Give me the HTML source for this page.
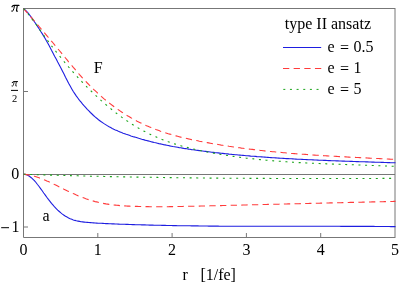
<!DOCTYPE html>
<html><head><meta charset="utf-8"><title>plot</title>
<style>
html,body{margin:0;padding:0;background:#fff;}
body{width:399px;height:283px;overflow:hidden;font-family:"Liberation Serif",serif;}
svg{display:block;will-change:transform;transform:translateZ(0)}
text{font-family:"Liberation Serif",serif;font-size:16px;fill:#000}
</style></head><body>
<svg width="399" height="283" viewBox="0 0 399 283">
<rect width="399" height="283" fill="#fff"/>
<g stroke="#777" stroke-width="1" fill="none">
<line x1="23.5" y1="174.5" x2="395" y2="174.5"/>
<path d="M395,8.5 H23.5 V237.5 H395"/>
<line x1="395" y1="8" x2="395" y2="238"/>
</g>
<g fill="none" stroke-width="1.1">
<path d="M23.5,8.5 L25.1,9.8 L26.6,11.4 L28.2,13.2 L29.7,15.1 L31.3,17.2 L32.8,19.4 L34.4,21.7 L36.0,24.0 L37.5,26.4 L39.1,28.8 L40.6,31.2 L42.2,33.6 L43.7,36.1 L45.3,38.7 L46.8,41.5 L48.4,44.3 L50.0,47.2 L51.5,50.2 L53.1,53.2 L54.6,56.2 L56.2,59.1 L57.7,62.1 L59.3,65.0 L60.9,68.0 L62.4,71.0 L64.0,74.1 L65.5,77.2 L67.1,80.2 L68.6,83.2 L70.2,86.1 L71.8,88.9 L73.3,91.5 L74.9,93.9 L76.4,96.1 L78.0,98.3 L79.5,100.3 L81.1,102.2 L82.6,104.1 L84.2,105.9 L85.8,107.6 L87.3,109.3 L88.9,110.9 L90.4,112.5 L92.0,114.0 L93.5,115.5 L95.1,116.9 L96.7,118.2 L98.2,119.5 L99.8,120.7 L101.3,121.8 L102.9,122.9 L104.4,123.9 L106.0,124.9 L107.6,125.9 L109.1,126.8 L110.7,127.6 L112.2,128.4 L113.8,129.2 L115.3,129.9 L116.9,130.6 L118.4,131.3 L120.0,131.9 L121.6,132.6 L123.1,133.2 L124.7,133.7 L126.2,134.3 L127.8,134.8 L129.3,135.3 L130.9,135.9 L132.5,136.4 L134.0,136.9 L135.6,137.3 L137.1,137.8 L138.7,138.3 L140.2,138.7 L141.8,139.2 L143.3,139.6 L144.9,140.1 L146.5,140.5 L148.0,140.9 L149.6,141.3 L151.1,141.7 L152.7,142.1 L154.2,142.5 L155.8,142.8 L157.4,143.2 L158.9,143.6 L160.5,143.9 L162.0,144.2 L163.6,144.6 L165.1,144.9 L166.7,145.2 L168.3,145.5 L169.8,145.9 L171.4,146.2 L172.9,146.5 L174.5,146.7 L176.0,147.0 L177.6,147.3 L179.1,147.6 L180.7,147.8 L182.3,148.1 L183.8,148.4 L185.4,148.6 L186.9,148.8 L188.5,149.1 L190.0,149.3 L191.6,149.6 L193.2,149.8 L194.7,150.0 L196.3,150.2 L197.8,150.4 L199.4,150.6 L200.9,150.8 L202.5,151.0 L204.1,151.2 L205.6,151.4 L207.2,151.6 L208.7,151.8 L210.3,152.0 L211.8,152.2 L213.4,152.4 L214.9,152.6 L216.5,152.7 L218.1,152.9 L219.6,153.1 L221.2,153.3 L222.7,153.4 L224.3,153.6 L225.8,153.8 L227.4,153.9 L229.0,154.1 L230.5,154.2 L232.1,154.4 L233.6,154.5 L235.2,154.7 L236.7,154.8 L238.3,155.0 L239.9,155.1 L241.4,155.3 L243.0,155.4 L244.5,155.5 L246.1,155.7 L247.6,155.8 L249.2,155.9 L250.7,156.1 L252.3,156.2 L253.9,156.3 L255.4,156.4 L257.0,156.6 L258.5,156.7 L260.1,156.8 L261.6,156.9 L263.2,157.0 L264.8,157.1 L266.3,157.3 L267.9,157.4 L269.4,157.5 L271.0,157.6 L272.5,157.7 L274.1,157.8 L275.7,157.9 L277.2,158.0 L278.8,158.1 L280.3,158.2 L281.9,158.3 L283.4,158.4 L285.0,158.5 L286.5,158.6 L288.1,158.6 L289.7,158.7 L291.2,158.8 L292.8,158.9 L294.3,159.0 L295.9,159.1 L297.4,159.2 L299.0,159.2 L300.6,159.3 L302.1,159.4 L303.7,159.5 L305.2,159.5 L306.8,159.6 L308.3,159.7 L309.9,159.8 L311.4,159.8 L313.0,159.9 L314.6,160.0 L316.1,160.0 L317.7,160.1 L319.2,160.2 L320.8,160.2 L322.3,160.3 L323.9,160.4 L325.5,160.4 L327.0,160.5 L328.6,160.6 L330.1,160.6 L331.7,160.7 L333.2,160.7 L334.8,160.8 L336.4,160.9 L337.9,160.9 L339.5,161.0 L341.0,161.0 L342.6,161.1 L344.1,161.1 L345.7,161.2 L347.2,161.3 L348.8,161.3 L350.4,161.4 L351.9,161.4 L353.5,161.5 L355.0,161.5 L356.6,161.6 L358.1,161.6 L359.7,161.7 L361.3,161.7 L362.8,161.8 L364.4,161.8 L365.9,161.9 L367.5,161.9 L369.0,162.0 L370.6,162.0 L372.2,162.1 L373.7,162.1 L375.3,162.2 L376.8,162.2 L378.4,162.3 L379.9,162.3 L381.5,162.4 L383.0,162.4 L384.6,162.5 L386.2,162.5 L387.7,162.6 L389.3,162.6 L390.8,162.7 L392.4,162.7 L393.9,162.8 L395.5,162.8" stroke="#1e1ee0"/>
<path d="M23.5,8.5 L25.1,10.3 L26.6,12.1 L28.2,13.8 L29.7,15.6 L31.3,17.4 L32.8,19.2 L34.4,21.0 L36.0,22.9 L37.5,24.7 L39.1,26.5 L40.6,28.3 L42.2,30.1 L43.7,32.0 L45.3,33.8 L46.8,35.6 L48.4,37.5 L50.0,39.3 L51.5,41.2 L53.1,43.0 L54.6,44.9 L56.2,46.7 L57.7,48.6 L59.3,50.5 L60.9,52.4 L62.4,54.2 L64.0,56.1 L65.5,58.0 L67.1,59.9 L68.6,61.8 L70.2,63.7 L71.8,65.5 L73.3,67.4 L74.9,69.2 L76.4,71.1 L78.0,72.8 L79.5,74.6 L81.1,76.4 L82.6,78.1 L84.2,79.8 L85.8,81.4 L87.3,83.0 L88.9,84.6 L90.4,86.2 L92.0,87.7 L93.5,89.3 L95.1,90.7 L96.7,92.2 L98.2,93.6 L99.8,95.0 L101.3,96.4 L102.9,97.8 L104.4,99.1 L106.0,100.4 L107.6,101.6 L109.1,102.9 L110.7,104.1 L112.2,105.3 L113.8,106.5 L115.3,107.6 L116.9,108.7 L118.4,109.8 L120.0,110.9 L121.6,112.0 L123.1,113.0 L124.7,114.0 L126.2,115.0 L127.8,115.9 L129.3,116.8 L130.9,117.8 L132.5,118.6 L134.0,119.5 L135.6,120.3 L137.1,121.2 L138.7,122.0 L140.2,122.7 L141.8,123.5 L143.3,124.2 L144.9,125.0 L146.5,125.7 L148.0,126.3 L149.6,127.0 L151.1,127.6 L152.7,128.3 L154.2,128.9 L155.8,129.5 L157.4,130.0 L158.9,130.6 L160.5,131.2 L162.0,131.7 L163.6,132.2 L165.1,132.7 L166.7,133.2 L168.3,133.7 L169.8,134.1 L171.4,134.6 L172.9,135.0 L174.5,135.5 L176.0,135.9 L177.6,136.3 L179.1,136.7 L180.7,137.1 L182.3,137.4 L183.8,137.8 L185.4,138.2 L186.9,138.5 L188.5,138.9 L190.0,139.2 L191.6,139.6 L193.2,139.9 L194.7,140.2 L196.3,140.5 L197.8,140.8 L199.4,141.2 L200.9,141.5 L202.5,141.8 L204.1,142.1 L205.6,142.3 L207.2,142.6 L208.7,142.9 L210.3,143.2 L211.8,143.5 L213.4,143.8 L214.9,144.0 L216.5,144.3 L218.1,144.5 L219.6,144.8 L221.2,145.1 L222.7,145.3 L224.3,145.6 L225.8,145.8 L227.4,146.0 L229.0,146.3 L230.5,146.5 L232.1,146.7 L233.6,147.0 L235.2,147.2 L236.7,147.4 L238.3,147.6 L239.9,147.8 L241.4,148.1 L243.0,148.3 L244.5,148.5 L246.1,148.7 L247.6,148.9 L249.2,149.1 L250.7,149.3 L252.3,149.4 L253.9,149.6 L255.4,149.8 L257.0,150.0 L258.5,150.2 L260.1,150.4 L261.6,150.5 L263.2,150.7 L264.8,150.9 L266.3,151.0 L267.9,151.2 L269.4,151.4 L271.0,151.5 L272.5,151.7 L274.1,151.8 L275.7,152.0 L277.2,152.1 L278.8,152.3 L280.3,152.4 L281.9,152.5 L283.4,152.7 L285.0,152.8 L286.5,153.0 L288.1,153.1 L289.7,153.2 L291.2,153.4 L292.8,153.5 L294.3,153.6 L295.9,153.7 L297.4,153.9 L299.0,154.0 L300.6,154.1 L302.1,154.2 L303.7,154.3 L305.2,154.4 L306.8,154.5 L308.3,154.7 L309.9,154.8 L311.4,154.9 L313.0,155.0 L314.6,155.1 L316.1,155.2 L317.7,155.3 L319.2,155.4 L320.8,155.5 L322.3,155.6 L323.9,155.7 L325.5,155.8 L327.0,155.9 L328.6,156.0 L330.1,156.0 L331.7,156.1 L333.2,156.2 L334.8,156.3 L336.4,156.4 L337.9,156.5 L339.5,156.6 L341.0,156.7 L342.6,156.7 L344.1,156.8 L345.7,156.9 L347.2,157.0 L348.8,157.1 L350.4,157.2 L351.9,157.2 L353.5,157.3 L355.0,157.4 L356.6,157.5 L358.1,157.5 L359.7,157.6 L361.3,157.7 L362.8,157.8 L364.4,157.9 L365.9,157.9 L367.5,158.0 L369.0,158.1 L370.6,158.2 L372.2,158.2 L373.7,158.3 L375.3,158.4 L376.8,158.5 L378.4,158.5 L379.9,158.6 L381.5,158.7 L383.0,158.8 L384.6,158.9 L386.2,158.9 L387.7,159.0 L389.3,159.1 L390.8,159.2 L392.4,159.2 L393.9,159.3 L395.5,159.4" stroke="#ff3b3b" stroke-dasharray="6.3 4.35"/>
<path d="M23.5,8.5 L25.1,10.3 L26.6,12.1 L28.2,14.0 L29.7,16.0 L31.3,18.0 L32.8,20.1 L34.4,22.2 L36.0,24.4 L37.5,26.5 L39.1,28.7 L40.6,30.9 L42.2,33.1 L43.7,35.2 L45.3,37.4 L46.8,39.5 L48.4,41.6 L50.0,43.7 L51.5,45.8 L53.1,47.8 L54.6,49.8 L56.2,51.8 L57.7,53.8 L59.3,55.7 L60.9,57.7 L62.4,59.6 L64.0,61.5 L65.5,63.3 L67.1,65.2 L68.6,67.0 L70.2,68.8 L71.8,70.6 L73.3,72.3 L74.9,74.1 L76.4,75.8 L78.0,77.5 L79.5,79.2 L81.1,80.8 L82.6,82.5 L84.2,84.1 L85.8,85.7 L87.3,87.3 L88.9,88.8 L90.4,90.4 L92.0,91.9 L93.5,93.4 L95.1,94.9 L96.7,96.3 L98.2,97.8 L99.8,99.2 L101.3,100.6 L102.9,102.0 L104.4,103.4 L106.0,104.7 L107.6,106.1 L109.1,107.4 L110.7,108.6 L112.2,109.9 L113.8,111.2 L115.3,112.4 L116.9,113.6 L118.4,114.8 L120.0,115.9 L121.6,117.1 L123.1,118.2 L124.7,119.3 L126.2,120.4 L127.8,121.4 L129.3,122.5 L130.9,123.5 L132.5,124.5 L134.0,125.4 L135.6,126.4 L137.1,127.3 L138.7,128.2 L140.2,129.1 L141.8,130.0 L143.3,130.8 L144.9,131.6 L146.5,132.4 L148.0,133.2 L149.6,134.0 L151.1,134.7 L152.7,135.5 L154.2,136.2 L155.8,136.8 L157.4,137.5 L158.9,138.2 L160.5,138.8 L162.0,139.4 L163.6,140.0 L165.1,140.6 L166.7,141.2 L168.3,141.8 L169.8,142.3 L171.4,142.8 L172.9,143.4 L174.5,143.9 L176.0,144.3 L177.6,144.8 L179.1,145.3 L180.7,145.7 L182.3,146.2 L183.8,146.6 L185.4,147.0 L186.9,147.4 L188.5,147.8 L190.0,148.2 L191.6,148.6 L193.2,149.0 L194.7,149.3 L196.3,149.7 L197.8,150.0 L199.4,150.4 L200.9,150.7 L202.5,151.0 L204.1,151.4 L205.6,151.7 L207.2,152.0 L208.7,152.3 L210.3,152.6 L211.8,152.9 L213.4,153.1 L214.9,153.4 L216.5,153.7 L218.1,154.0 L219.6,154.2 L221.2,154.5 L222.7,154.8 L224.3,155.0 L225.8,155.3 L227.4,155.5 L229.0,155.7 L230.5,156.0 L232.1,156.2 L233.6,156.4 L235.2,156.6 L236.7,156.8 L238.3,157.1 L239.9,157.3 L241.4,157.5 L243.0,157.7 L244.5,157.9 L246.1,158.1 L247.6,158.2 L249.2,158.4 L250.7,158.6 L252.3,158.8 L253.9,158.9 L255.4,159.1 L257.0,159.3 L258.5,159.4 L260.1,159.6 L261.6,159.7 L263.2,159.9 L264.8,160.0 L266.3,160.2 L267.9,160.3 L269.4,160.5 L271.0,160.6 L272.5,160.7 L274.1,160.9 L275.7,161.0 L277.2,161.1 L278.8,161.2 L280.3,161.3 L281.9,161.5 L283.4,161.6 L285.0,161.7 L286.5,161.8 L288.1,161.9 L289.7,162.0 L291.2,162.1 L292.8,162.2 L294.3,162.3 L295.9,162.4 L297.4,162.5 L299.0,162.6 L300.6,162.6 L302.1,162.7 L303.7,162.8 L305.2,162.9 L306.8,163.0 L308.3,163.0 L309.9,163.1 L311.4,163.2 L313.0,163.3 L314.6,163.3 L316.1,163.4 L317.7,163.5 L319.2,163.5 L320.8,163.6 L322.3,163.7 L323.9,163.7 L325.5,163.8 L327.0,163.9 L328.6,163.9 L330.1,164.0 L331.7,164.0 L333.2,164.1 L334.8,164.2 L336.4,164.2 L337.9,164.3 L339.5,164.3 L341.0,164.4 L342.6,164.4 L344.1,164.5 L345.7,164.5 L347.2,164.6 L348.8,164.6 L350.4,164.7 L351.9,164.8 L353.5,164.8 L355.0,164.9 L356.6,164.9 L358.1,165.0 L359.7,165.0 L361.3,165.1 L362.8,165.1 L364.4,165.2 L365.9,165.2 L367.5,165.3 L369.0,165.3 L370.6,165.4 L372.2,165.5 L373.7,165.5 L375.3,165.6 L376.8,165.6 L378.4,165.7 L379.9,165.7 L381.5,165.8 L383.0,165.9 L384.6,165.9 L386.2,166.0 L387.7,166.1 L389.3,166.1 L390.8,166.2 L392.4,166.3 L393.9,166.3 L395.5,166.4" stroke="#1aa51a" stroke-dasharray="2 4.65"/>
<path d="M23.5,174.3 L25.1,174.4 L26.6,174.8 L28.2,175.5 L29.7,176.5 L31.3,177.7 L32.8,179.1 L34.4,180.7 L36.0,182.5 L37.5,184.5 L39.1,186.5 L40.6,188.6 L42.2,190.8 L43.7,193.0 L45.3,195.1 L46.8,197.3 L48.4,199.4 L50.0,201.4 L51.5,203.4 L53.1,205.2 L54.6,207.0 L56.2,208.6 L57.7,210.1 L59.3,211.5 L60.9,212.9 L62.4,214.1 L64.0,215.2 L65.5,216.2 L67.1,217.1 L68.6,217.9 L70.2,218.7 L71.8,219.3 L73.3,219.9 L74.9,220.4 L76.4,220.8 L78.0,221.1 L79.5,221.4 L81.1,221.7 L82.6,221.9 L84.2,222.1 L85.8,222.3 L87.3,222.4 L88.9,222.5 L90.4,222.6 L92.0,222.8 L93.5,222.9 L95.1,223.0 L96.7,223.1 L98.2,223.2 L99.8,223.2 L101.3,223.3 L102.9,223.4 L104.4,223.5 L106.0,223.6 L107.6,223.6 L109.1,223.7 L110.7,223.8 L112.2,223.9 L113.8,223.9 L115.3,224.0 L116.9,224.0 L118.4,224.1 L120.0,224.2 L121.6,224.2 L123.1,224.3 L124.7,224.3 L126.2,224.4 L127.8,224.4 L129.3,224.5 L130.9,224.5 L132.5,224.6 L134.0,224.6 L135.6,224.7 L137.1,224.7 L138.7,224.8 L140.2,224.8 L141.8,224.9 L143.3,224.9 L144.9,224.9 L146.5,225.0 L148.0,225.0 L149.6,225.1 L151.1,225.1 L152.7,225.1 L154.2,225.2 L155.8,225.2 L157.4,225.3 L158.9,225.3 L160.5,225.3 L162.0,225.4 L163.6,225.4 L165.1,225.4 L166.7,225.5 L168.3,225.5 L169.8,225.5 L171.4,225.5 L172.9,225.6 L174.5,225.6 L176.0,225.6 L177.6,225.7 L179.1,225.7 L180.7,225.7 L182.3,225.7 L183.8,225.8 L185.4,225.8 L186.9,225.8 L188.5,225.8 L190.0,225.8 L191.6,225.9 L193.2,225.9 L194.7,225.9 L196.3,225.9 L197.8,225.9 L199.4,226.0 L200.9,226.0 L202.5,226.0 L204.1,226.0 L205.6,226.0 L207.2,226.0 L208.7,226.1 L210.3,226.1 L211.8,226.1 L213.4,226.1 L214.9,226.1 L216.5,226.1 L218.1,226.1 L219.6,226.2 L221.2,226.2 L222.7,226.2 L224.3,226.2 L225.8,226.2 L227.4,226.2 L229.0,226.2 L230.5,226.2 L232.1,226.2 L233.6,226.2 L235.2,226.2 L236.7,226.3 L238.3,226.3 L239.9,226.3 L241.4,226.3 L243.0,226.3 L244.5,226.3 L246.1,226.3 L247.6,226.3 L249.2,226.3 L250.7,226.3 L252.3,226.3 L253.9,226.3 L255.4,226.3 L257.0,226.3 L258.5,226.3 L260.1,226.3 L261.6,226.3 L263.2,226.3 L264.8,226.3 L266.3,226.3 L267.9,226.3 L269.4,226.3 L271.0,226.3 L272.5,226.3 L274.1,226.3 L275.7,226.3 L277.2,226.3 L278.8,226.3 L280.3,226.3 L281.9,226.3 L283.4,226.3 L285.0,226.3 L286.5,226.3 L288.1,226.3 L289.7,226.3 L291.2,226.3 L292.8,226.3 L294.3,226.3 L295.9,226.3 L297.4,226.3 L299.0,226.3 L300.6,226.3 L302.1,226.3 L303.7,226.3 L305.2,226.3 L306.8,226.3 L308.3,226.3 L309.9,226.3 L311.4,226.3 L313.0,226.3 L314.6,226.3 L316.1,226.3 L317.7,226.3 L319.2,226.3 L320.8,226.3 L322.3,226.3 L323.9,226.3 L325.5,226.3 L327.0,226.3 L328.6,226.3 L330.1,226.3 L331.7,226.3 L333.2,226.3 L334.8,226.3 L336.4,226.3 L337.9,226.3 L339.5,226.3 L341.0,226.4 L342.6,226.4 L344.1,226.4 L345.7,226.4 L347.2,226.4 L348.8,226.4 L350.4,226.4 L351.9,226.4 L353.5,226.4 L355.0,226.4 L356.6,226.4 L358.1,226.4 L359.7,226.4 L361.3,226.4 L362.8,226.4 L364.4,226.4 L365.9,226.4 L367.5,226.4 L369.0,226.4 L370.6,226.4 L372.2,226.4 L373.7,226.4 L375.3,226.5 L376.8,226.5 L378.4,226.5 L379.9,226.5 L381.5,226.5 L383.0,226.5 L384.6,226.5 L386.2,226.5 L387.7,226.5 L389.3,226.5 L390.8,226.6 L392.4,226.6 L393.9,226.6 L395.5,226.6" stroke="#1e1ee0"/>
<path d="M23.5,174.3 L25.1,174.4 L26.6,174.6 L28.2,174.9 L29.7,175.1 L31.3,175.5 L32.8,175.9 L34.4,176.3 L36.0,176.8 L37.5,177.3 L39.1,177.8 L40.6,178.4 L42.2,179.0 L43.7,179.6 L45.3,180.2 L46.8,180.9 L48.4,181.6 L50.0,182.3 L51.5,183.1 L53.1,183.8 L54.6,184.6 L56.2,185.3 L57.7,186.1 L59.3,186.9 L60.9,187.6 L62.4,188.4 L64.0,189.2 L65.5,189.9 L67.1,190.7 L68.6,191.4 L70.2,192.2 L71.8,192.9 L73.3,193.6 L74.9,194.3 L76.4,195.0 L78.0,195.7 L79.5,196.3 L81.1,196.9 L82.6,197.5 L84.2,198.1 L85.8,198.7 L87.3,199.2 L88.9,199.7 L90.4,200.2 L92.0,200.7 L93.5,201.1 L95.1,201.6 L96.7,201.9 L98.2,202.3 L99.8,202.7 L101.3,203.0 L102.9,203.3 L104.4,203.6 L106.0,203.9 L107.6,204.1 L109.1,204.4 L110.7,204.6 L112.2,204.8 L113.8,205.0 L115.3,205.1 L116.9,205.3 L118.4,205.4 L120.0,205.6 L121.6,205.7 L123.1,205.8 L124.7,205.9 L126.2,206.0 L127.8,206.1 L129.3,206.1 L130.9,206.2 L132.5,206.3 L134.0,206.3 L135.6,206.4 L137.1,206.4 L138.7,206.5 L140.2,206.5 L141.8,206.5 L143.3,206.6 L144.9,206.6 L146.5,206.6 L148.0,206.6 L149.6,206.7 L151.1,206.7 L152.7,206.7 L154.2,206.7 L155.8,206.7 L157.4,206.7 L158.9,206.7 L160.5,206.7 L162.0,206.7 L163.6,206.7 L165.1,206.7 L166.7,206.7 L168.3,206.7 L169.8,206.6 L171.4,206.6 L172.9,206.6 L174.5,206.6 L176.0,206.6 L177.6,206.5 L179.1,206.5 L180.7,206.5 L182.3,206.5 L183.8,206.4 L185.4,206.4 L186.9,206.4 L188.5,206.3 L190.0,206.3 L191.6,206.3 L193.2,206.2 L194.7,206.2 L196.3,206.2 L197.8,206.1 L199.4,206.1 L200.9,206.0 L202.5,206.0 L204.1,206.0 L205.6,205.9 L207.2,205.9 L208.7,205.9 L210.3,205.8 L211.8,205.8 L213.4,205.7 L214.9,205.7 L216.5,205.7 L218.1,205.6 L219.6,205.6 L221.2,205.6 L222.7,205.5 L224.3,205.5 L225.8,205.5 L227.4,205.4 L229.0,205.4 L230.5,205.3 L232.1,205.3 L233.6,205.3 L235.2,205.2 L236.7,205.2 L238.3,205.2 L239.9,205.1 L241.4,205.1 L243.0,205.0 L244.5,205.0 L246.1,205.0 L247.6,204.9 L249.2,204.9 L250.7,204.9 L252.3,204.8 L253.9,204.8 L255.4,204.7 L257.0,204.7 L258.5,204.7 L260.1,204.6 L261.6,204.6 L263.2,204.5 L264.8,204.5 L266.3,204.5 L267.9,204.4 L269.4,204.4 L271.0,204.4 L272.5,204.3 L274.1,204.3 L275.7,204.2 L277.2,204.2 L278.8,204.2 L280.3,204.1 L281.9,204.1 L283.4,204.1 L285.0,204.0 L286.5,204.0 L288.1,203.9 L289.7,203.9 L291.2,203.9 L292.8,203.8 L294.3,203.8 L295.9,203.8 L297.4,203.7 L299.0,203.7 L300.6,203.6 L302.1,203.6 L303.7,203.6 L305.2,203.5 L306.8,203.5 L308.3,203.5 L309.9,203.4 L311.4,203.4 L313.0,203.3 L314.6,203.3 L316.1,203.3 L317.7,203.2 L319.2,203.2 L320.8,203.1 L322.3,203.1 L323.9,203.1 L325.5,203.0 L327.0,203.0 L328.6,203.0 L330.1,202.9 L331.7,202.9 L333.2,202.8 L334.8,202.8 L336.4,202.8 L337.9,202.7 L339.5,202.7 L341.0,202.7 L342.6,202.6 L344.1,202.6 L345.7,202.6 L347.2,202.5 L348.8,202.5 L350.4,202.4 L351.9,202.4 L353.5,202.4 L355.0,202.3 L356.6,202.3 L358.1,202.3 L359.7,202.2 L361.3,202.2 L362.8,202.1 L364.4,202.1 L365.9,202.1 L367.5,202.0 L369.0,202.0 L370.6,202.0 L372.2,201.9 L373.7,201.9 L375.3,201.9 L376.8,201.8 L378.4,201.8 L379.9,201.8 L381.5,201.7 L383.0,201.7 L384.6,201.6 L386.2,201.6 L387.7,201.6 L389.3,201.5 L390.8,201.5 L392.4,201.5 L393.9,201.4 L395.5,201.4" stroke="#ff3b3b" stroke-dasharray="6.3 4.35"/>
<path d="M23.5,174.3 L25.1,174.3 L26.6,174.4 L28.2,174.4 L29.7,174.5 L31.3,174.5 L32.8,174.6 L34.4,174.6 L36.0,174.7 L37.5,174.7 L39.1,174.8 L40.6,174.8 L42.2,174.9 L43.7,174.9 L45.3,175.0 L46.8,175.0 L48.4,175.1 L50.0,175.1 L51.5,175.1 L53.1,175.2 L54.6,175.2 L56.2,175.3 L57.7,175.3 L59.3,175.4 L60.9,175.4 L62.4,175.4 L64.0,175.5 L65.5,175.5 L67.1,175.6 L68.6,175.6 L70.2,175.6 L71.8,175.7 L73.3,175.7 L74.9,175.8 L76.4,175.8 L78.0,175.8 L79.5,175.9 L81.1,175.9 L82.6,176.0 L84.2,176.0 L85.8,176.0 L87.3,176.1 L88.9,176.1 L90.4,176.2 L92.0,176.2 L93.5,176.2 L95.1,176.3 L96.7,176.3 L98.2,176.3 L99.8,176.4 L101.3,176.4 L102.9,176.4 L104.4,176.5 L106.0,176.5 L107.6,176.5 L109.1,176.6 L110.7,176.6 L112.2,176.6 L113.8,176.7 L115.3,176.7 L116.9,176.7 L118.4,176.8 L120.0,176.8 L121.6,176.8 L123.1,176.9 L124.7,176.9 L126.2,176.9 L127.8,176.9 L129.3,177.0 L130.9,177.0 L132.5,177.0 L134.0,177.1 L135.6,177.1 L137.1,177.1 L138.7,177.1 L140.2,177.2 L141.8,177.2 L143.3,177.2 L144.9,177.2 L146.5,177.3 L148.0,177.3 L149.6,177.3 L151.1,177.3 L152.7,177.4 L154.2,177.4 L155.8,177.4 L157.4,177.4 L158.9,177.5 L160.5,177.5 L162.0,177.5 L163.6,177.5 L165.1,177.6 L166.7,177.6 L168.3,177.6 L169.8,177.6 L171.4,177.6 L172.9,177.7 L174.5,177.7 L176.0,177.7 L177.6,177.7 L179.1,177.7 L180.7,177.8 L182.3,177.8 L183.8,177.8 L185.4,177.8 L186.9,177.8 L188.5,177.9 L190.0,177.9 L191.6,177.9 L193.2,177.9 L194.7,177.9 L196.3,177.9 L197.8,178.0 L199.4,178.0 L200.9,178.0 L202.5,178.0 L204.1,178.0 L205.6,178.0 L207.2,178.0 L208.7,178.1 L210.3,178.1 L211.8,178.1 L213.4,178.1 L214.9,178.1 L216.5,178.1 L218.1,178.1 L219.6,178.2 L221.2,178.2 L222.7,178.2 L224.3,178.2 L225.8,178.2 L227.4,178.2 L229.0,178.2 L230.5,178.2 L232.1,178.2 L233.6,178.3 L235.2,178.3 L236.7,178.3 L238.3,178.3 L239.9,178.3 L241.4,178.3 L243.0,178.3 L244.5,178.3 L246.1,178.3 L247.6,178.3 L249.2,178.4 L250.7,178.4 L252.3,178.4 L253.9,178.4 L255.4,178.4 L257.0,178.4 L258.5,178.4 L260.1,178.4 L261.6,178.4 L263.2,178.4 L264.8,178.4 L266.3,178.4 L267.9,178.4 L269.4,178.4 L271.0,178.5 L272.5,178.5 L274.1,178.5 L275.7,178.5 L277.2,178.5 L278.8,178.5 L280.3,178.5 L281.9,178.5 L283.4,178.5 L285.0,178.5 L286.5,178.5 L288.1,178.5 L289.7,178.5 L291.2,178.5 L292.8,178.5 L294.3,178.5 L295.9,178.5 L297.4,178.5 L299.0,178.5 L300.6,178.5 L302.1,178.5 L303.7,178.5 L305.2,178.5 L306.8,178.5 L308.3,178.5 L309.9,178.5 L311.4,178.5 L313.0,178.5 L314.6,178.5 L316.1,178.5 L317.7,178.5 L319.2,178.5 L320.8,178.5 L322.3,178.5 L323.9,178.5 L325.5,178.5 L327.0,178.5 L328.6,178.5 L330.1,178.5 L331.7,178.5 L333.2,178.5 L334.8,178.5 L336.4,178.5 L337.9,178.5 L339.5,178.5 L341.0,178.5 L342.6,178.5 L344.1,178.5 L345.7,178.5 L347.2,178.5 L348.8,178.5 L350.4,178.5 L351.9,178.5 L353.5,178.5 L355.0,178.5 L356.6,178.5 L358.1,178.5 L359.7,178.5 L361.3,178.5 L362.8,178.5 L364.4,178.5 L365.9,178.5 L367.5,178.5 L369.0,178.5 L370.6,178.5 L372.2,178.5 L373.7,178.5 L375.3,178.5 L376.8,178.5 L378.4,178.5 L379.9,178.4 L381.5,178.4 L383.0,178.4 L384.6,178.4 L386.2,178.4 L387.7,178.4 L389.3,178.4 L390.8,178.4 L392.4,178.4 L393.9,178.4 L395.5,178.4" stroke="#1aa51a" stroke-dasharray="2 4.65"/>
</g>
<g stroke="#777" stroke-width="1" fill="none" shape-rendering="crispEdges">
<line x1="97.8" y1="233" x2="97.8" y2="237.5" shape-rendering="auto"/>
<line x1="172.1" y1="233" x2="172.1" y2="237.5" shape-rendering="auto"/>
<line x1="246.4" y1="233" x2="246.4" y2="237.5" shape-rendering="auto"/>
<line x1="320.7" y1="233" x2="320.7" y2="237.5" shape-rendering="auto"/>
<line x1="23.5" y1="91.5" x2="28" y2="91.5"/>
<line x1="23.5" y1="227" x2="28" y2="227" shape-rendering="auto"/>
</g>
<g>
<g transform="translate(11,4.5)" fill="none" stroke="#000" stroke-linecap="round" stroke-linejoin="round">
<path d="M1.0,2.3 Q1.7,0.9 3.0,0.9 L7.9,0.9" stroke-width="1.25" vector-effect="non-scaling-stroke"/>
<path d="M3.5,1.2 Q3.1,4.6 1.9,6.4 Q1.3,7.2 0.6,6.7" stroke-width="1.0" vector-effect="non-scaling-stroke"/>
<path d="M6.3,1.2 L5.5,5.8 Q5.3,7.1 6.5,6.6" stroke-width="1.1" vector-effect="non-scaling-stroke"/>
</g>
<g transform="translate(11.4,80.9) scale(0.78)" fill="none" stroke="#000" stroke-linecap="round" stroke-linejoin="round">
<path d="M1.0,2.3 Q1.7,0.9 3.0,0.9 L7.9,0.9" stroke-width="1.0" vector-effect="non-scaling-stroke"/>
<path d="M3.5,1.2 Q3.1,4.6 1.9,6.4 Q1.3,7.2 0.6,6.7" stroke-width="0.8" vector-effect="non-scaling-stroke"/>
<path d="M6.3,1.2 L5.5,5.8 Q5.3,7.1 6.5,6.6" stroke-width="0.85" vector-effect="non-scaling-stroke"/>
</g>
<line x1="11" y1="90.4" x2="18" y2="90.4" stroke="#000" stroke-width="1"/>
<text x="11.9" y="101.9" style="font-size:10.5px">2</text>
<text x="11.3" y="178.8">0</text>
<line x1="1.2" y1="227.7" x2="9" y2="227.7" stroke="#000" stroke-width="1"/>
<text x="11.6" y="231.8">1</text>
<text x="23.5" y="254.8" text-anchor="middle">0</text>
<text x="97.8" y="254.8" text-anchor="middle">1</text>
<text x="172.1" y="254.8" text-anchor="middle">2</text>
<text x="246.4" y="254.8" text-anchor="middle">3</text>
<text x="320.7" y="254.8" text-anchor="middle">4</text>
<text x="395.0" y="254.8" text-anchor="middle">5</text>
<text x="182.4" y="280">r</text>
<text x="200.4" y="280">[1/fe]</text>
<text x="93.7" y="73">F</text>
<text x="42.5" y="220.7">a</text>
<text x="284.8" y="28.7">type II ansatz</text>
<text y="52.4"><tspan x="327.6">e</tspan><tspan x="339.9" dy="0.6">=</tspan><tspan x="353.6" dy="-0.6">0.5</tspan></text>
<text y="73.3"><tspan x="327.6">e</tspan><tspan x="339.9" dy="0.6">=</tspan><tspan x="353.6" dy="-0.6">1</tspan></text>
<text y="94"><tspan x="327.6">e</tspan><tspan x="339.9" dy="0.6">=</tspan><tspan x="353.6" dy="-0.6">5</tspan></text>
</g>
<g fill="none" stroke-width="1">
<line x1="283" y1="47.5" x2="321.2" y2="47.5" stroke="#1e1ee0"/>
<line x1="283" y1="68.5" x2="321.3" y2="68.5" stroke="#ff3b3b" stroke-dasharray="6.3 4.35"/>
<line x1="283.3" y1="89.4" x2="321" y2="89.4" stroke="#1aa51a" stroke-dasharray="2 4.65"/>
</g>
</svg>
</body></html>
